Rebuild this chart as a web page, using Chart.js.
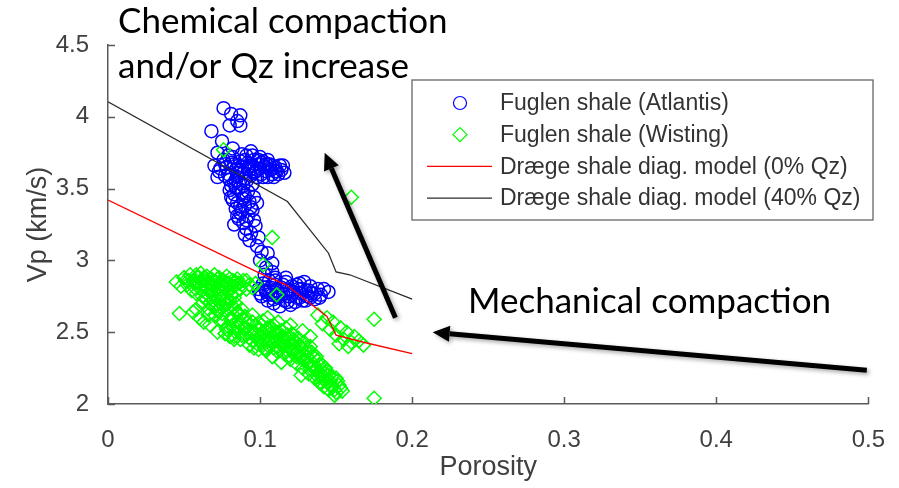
<!DOCTYPE html>
<html>
<head>
<meta charset="utf-8">
<script src="https://cdn.jsdelivr.net/npm/chart.js@4.4.1/dist/chart.umd.min.js"></script>
<style>
  html, body { margin: 0; padding: 0; background: #fff; }
  #caixa { width: 899px; height: 488px; }
</style>
</head>
<body>
<div id="caixa"><canvas id="graficoVp" width="899" height="488"></canvas></div>
<script>
// Fuglen shale (Atlantis) - porosity / Vp (km/s)
const atlantisPorosity = [
  0.076, 0.081, 0.087, 0.085, 0.080, 0.087, 0.068, 0.075, 0.082, 0.072,
  0.070, 0.073, 0.072, 0.076, 0.078, 0.079, 0.080, 0.082, 0.083, 0.084,
  0.085, 0.086, 0.087, 0.088, 0.089, 0.090, 0.091, 0.092, 0.093, 0.094,
  0.095, 0.096, 0.097, 0.098, 0.099, 0.100, 0.101, 0.102, 0.103, 0.104,
  0.105, 0.106, 0.107, 0.108, 0.110, 0.111, 0.113, 0.116, 0.094, 0.088,
  0.100, 0.085, 0.091, 0.095, 0.081,
  0.074, 0.077, 0.081, 0.084, 0.087, 0.090, 0.093, 0.096, 0.099, 0.102,
  0.105, 0.108, 0.112, 0.079, 0.083, 0.089, 0.095, 0.101, 0.109, 0.114,
  0.077, 0.086, 0.092, 0.098, 0.104, 0.110, 0.115,
  0.080, 0.083, 0.086, 0.088, 0.082, 0.085, 0.089, 0.092, 0.084, 0.087,
  0.090, 0.093, 0.096, 0.086, 0.089, 0.092, 0.095, 0.098, 0.083, 0.091,
  0.094, 0.097, 0.099, 0.093,
  0.081, 0.084, 0.087, 0.090, 0.085, 0.088, 0.091, 0.094, 0.090, 0.096,
  0.098, 0.101, 0.105, 0.100, 0.108, 0.104, 0.108, 0.103, 0.110,
  0.099, 0.101, 0.102, 0.104, 0.105, 0.106, 0.107, 0.108, 0.109, 0.110,
  0.111, 0.112, 0.114, 0.115, 0.116, 0.117, 0.118, 0.119, 0.120, 0.121,
  0.122, 0.124, 0.125, 0.126, 0.127, 0.128, 0.130, 0.131, 0.133, 0.134,
  0.136, 0.138, 0.140, 0.145, 0.113, 0.105, 0.123,
  0.100, 0.103, 0.106, 0.109, 0.112, 0.115, 0.118, 0.121, 0.124, 0.127,
  0.130, 0.133, 0.136, 0.139, 0.142, 0.110, 0.117, 0.129,
  0.104, 0.111, 0.120, 0.126, 0.132
];
const atlantisVp = [
  4.06, 4.02, 4.01, 3.97, 3.94, 3.94, 3.90, 3.83, 3.78, 3.75,
  3.66, 3.62, 3.58, 3.70, 3.65, 3.60, 3.56, 3.72, 3.67, 3.63,
  3.58, 3.54, 3.69, 3.65, 3.61, 3.57, 3.73, 3.68, 3.63, 3.59,
  3.66, 3.70, 3.62, 3.58, 3.67, 3.64, 3.60, 3.69, 3.65, 3.62,
  3.58, 3.67, 3.63, 3.60, 3.65, 3.62, 3.66, 3.61, 3.76, 3.74,
  3.72, 3.61, 3.55, 3.53, 3.52,
  3.64, 3.59, 3.68, 3.56, 3.63, 3.70, 3.66, 3.61, 3.70, 3.58,
  3.70, 3.66, 3.60, 3.73, 3.54, 3.52, 3.73, 3.68, 3.58, 3.63,
  3.67, 3.66, 3.64, 3.63, 3.67, 3.62, 3.66,
  3.49, 3.46, 3.50, 3.47, 3.42, 3.40, 3.43, 3.48, 3.36, 3.33,
  3.38, 3.41, 3.44, 3.29, 3.26, 3.31, 3.35, 3.40, 3.25, 3.22,
  3.19, 3.24, 3.16, 3.14,
  3.44, 3.51, 3.38, 3.45, 3.31, 3.35, 3.28, 3.37, 3.18, 3.28,
  3.10, 3.06, 3.05, 3.00, 2.98, 2.95, 2.92, 2.90, 2.88,
  2.80, 2.75, 2.84, 2.78, 2.72, 2.86, 2.81, 2.76, 2.70, 2.83,
  2.79, 2.74, 2.81, 2.77, 2.72, 2.85, 2.79, 2.75, 2.69, 2.82,
  2.78, 2.74, 2.80, 2.84, 2.77, 2.72, 2.79, 2.75, 2.82, 2.77,
  2.73, 2.80, 2.76, 2.78, 2.68, 2.76, 2.71,
  2.77, 2.81, 2.79, 2.73, 2.77, 2.83, 2.71, 2.76, 2.83, 2.80,
  2.72, 2.74, 2.77, 2.74, 2.80, 2.86, 2.88, 2.85,
  2.79, 2.75, 2.79, 2.74, 2.79
];

// Fuglen shale (Wisting) - porosity / Vp (km/s)
const wistingPorosity = [
  0.076, 0.108, 0.102, 0.111, 0.160, 0.175, 0.175,
  0.045, 0.050, 0.052, 0.054, 0.056, 0.057, 0.059, 0.060, 0.061, 0.062,
  0.063, 0.064, 0.065, 0.066, 0.067, 0.068, 0.069, 0.070, 0.071, 0.072,
  0.073, 0.074, 0.075, 0.076, 0.077, 0.078, 0.079, 0.080, 0.082, 0.083,
  0.085, 0.087, 0.089, 0.093, 0.097, 0.058, 0.064, 0.070, 0.078, 0.073,
  0.081, 0.067, 0.076,
  0.048, 0.053, 0.055, 0.058, 0.060, 0.063, 0.065, 0.068, 0.070, 0.072,
  0.074, 0.077, 0.079, 0.081, 0.084, 0.086, 0.062, 0.066, 0.069, 0.075,
  0.080, 0.071, 0.077, 0.083, 0.091,
  0.051, 0.057, 0.061, 0.065, 0.069, 0.073, 0.076, 0.080, 0.084, 0.088,
  0.091, 0.095,
  0.084, 0.079, 0.085, 0.072, 0.088, 0.060, 0.066, 0.074, 0.081, 0.090,
  0.067, 0.072, 0.047, 0.056,
  0.058, 0.062, 0.066, 0.070, 0.075, 0.079, 0.083, 0.087, 0.063, 0.069,
  0.076, 0.078, 0.080, 0.082, 0.084, 0.086, 0.087, 0.089, 0.091, 0.092,
  0.094, 0.095, 0.097, 0.098, 0.100, 0.101, 0.102, 0.104, 0.105, 0.106,
  0.107, 0.109, 0.110, 0.111, 0.112, 0.113, 0.115, 0.116, 0.117, 0.118,
  0.119, 0.120, 0.121, 0.122, 0.123, 0.124, 0.125, 0.126, 0.127, 0.128,
  0.129, 0.130, 0.131, 0.132, 0.133, 0.134, 0.135, 0.136, 0.137, 0.138,
  0.139, 0.140, 0.141, 0.142, 0.143, 0.144, 0.145, 0.146, 0.148, 0.150,
  0.152, 0.154, 0.099, 0.093, 0.108,
  0.077, 0.081, 0.083, 0.085, 0.088, 0.090, 0.093, 0.096, 0.099, 0.101,
  0.103, 0.106, 0.108, 0.110, 0.112, 0.114, 0.116, 0.118, 0.120, 0.122,
  0.124, 0.126, 0.128, 0.130, 0.132, 0.134, 0.136, 0.138, 0.140, 0.142,
  0.144, 0.147, 0.149, 0.151, 0.153, 0.104, 0.114, 0.119, 0.127, 0.135,
  0.079, 0.083, 0.087, 0.091, 0.095, 0.098, 0.102, 0.105, 0.109, 0.113,
  0.117, 0.121, 0.125, 0.129, 0.133, 0.137, 0.141, 0.145, 0.147, 0.150,
  0.096, 0.100, 0.107, 0.111, 0.115, 0.123, 0.131, 0.139, 0.143, 0.149,
  0.085, 0.095, 0.105, 0.112, 0.120, 0.128, 0.133,
  0.138, 0.141, 0.144, 0.146, 0.148, 0.150, 0.153, 0.155, 0.157, 0.160,
  0.162, 0.165, 0.168, 0.152, 0.158
];
const wistingVp = [
  3.77, 3.16, 2.97, 2.76, 3.44, 2.59, 2.04,
  2.85, 2.88, 2.83, 2.90, 2.86, 2.81, 2.88, 2.84, 2.91, 2.79,
  2.86, 2.82, 2.89, 2.84, 2.78, 2.87, 2.82, 2.90, 2.85, 2.80,
  2.88, 2.83, 2.77, 2.86, 2.81, 2.89, 2.84, 2.79, 2.86, 2.82,
  2.87, 2.80, 2.86, 2.83, 2.84, 2.77, 2.74, 2.75, 2.73, 2.71,
  2.76, 2.70, 2.68,
  2.82, 2.86, 2.79, 2.90, 2.81, 2.88, 2.80, 2.84, 2.79, 2.87,
  2.80, 2.85, 2.78, 2.83, 2.78, 2.84, 2.75, 2.76, 2.72, 2.74,
  2.72, 2.68, 2.70, 2.74, 2.80,
  2.86, 2.84, 2.86, 2.86, 2.86, 2.85, 2.83, 2.87, 2.85, 2.83,
  2.86, 2.81,
  2.70, 2.66, 2.63, 2.65, 2.66, 2.60, 2.62, 2.59, 2.60, 2.61,
  2.55, 2.50, 2.63, 2.64,
  2.66, 2.70, 2.66, 2.62, 2.63, 2.70, 2.67, 2.62, 2.57, 2.68,
  2.57, 2.52, 2.47, 2.55, 2.50, 2.58, 2.45, 2.53, 2.48, 2.57,
  2.51, 2.44, 2.55, 2.48, 2.52, 2.42, 2.58, 2.46, 2.53, 2.40,
  2.49, 2.55, 2.44, 2.37, 2.50, 2.42, 2.47, 2.35, 2.53, 2.40,
  2.45, 2.31, 2.49, 2.37, 2.43, 2.28, 2.46, 2.33, 2.39, 2.25,
  2.43, 2.30, 2.36, 2.21, 2.40, 2.27, 2.33, 2.18, 2.24, 2.30,
  2.15, 2.21, 2.27, 2.12, 2.18, 2.23, 2.10, 2.16, 2.12, 2.08,
  2.13, 2.09, 2.38, 2.41, 2.33,
  2.49, 2.58, 2.45, 2.54, 2.48, 2.52, 2.46, 2.50, 2.45, 2.55,
  2.39, 2.51, 2.44, 2.50, 2.40, 2.51, 2.43, 2.48, 2.38, 2.45,
  2.33, 2.41, 2.31, 2.39, 2.28, 2.36, 2.24, 2.19, 2.15, 2.22,
  2.15, 2.19, 2.10, 2.16, 2.11, 2.37, 2.29, 2.34, 2.20, 2.28,
  2.54, 2.47, 2.55, 2.53, 2.57, 2.42, 2.49, 2.44, 2.39, 2.46,
  2.38, 2.42, 2.36, 2.34, 2.25, 2.33, 2.18, 2.20, 2.13, 2.18,
  2.39, 2.47, 2.54, 2.47, 2.41, 2.34, 2.33, 2.27, 2.25, 2.06,
  2.64, 2.62, 2.60, 2.57, 2.55, 2.51, 2.47,
  2.62, 2.56, 2.60, 2.52, 2.57, 2.48, 2.53, 2.45, 2.50, 2.43,
  2.47, 2.44, 2.41, 2.42, 2.40
];

// Dræge diagenetic model curves
const model0Porosity = [0, 0.100, 0.117, 0.133, 0.144, 0.150, 0.168, 0.200];
const model0Vp = [3.42, 2.91, 2.83, 2.70, 2.61, 2.48, 2.43, 2.35];
const model40Porosity = [0, 0.118, 0.145, 0.150, 0.159, 0.200];
const model40Vp = [4.105, 3.41, 3.05, 2.92, 2.90, 2.73];

const seriesLabels = [
  'Fuglen shale (Atlantis)',
  'Fuglen shale (Wisting)',
  'Dræge shale diag. model (0% Qz)',
  'Dræge shale diag. model (40% Qz)'
];

const xTicks = [0, 0.1, 0.2, 0.3, 0.4, 0.5];
const xTickLabels = ['0', '0.1', '0.2', '0.3', '0.4', '0.5'];
const yTicks = [2, 2.5, 3, 3.5, 4, 4.5];
const yTickLabels = ['2', '2.5', '3', '3.5', '4', '4.5'];

function pares(xs, ys) {
  return xs.map(function (x, i) { return { x: x, y: ys[i] }; });
}

const corEixo = '#5a5a5a';
const fonteEixo = 'Liberation Sans, Arial, sans-serif';

// marcas de escala viradas para dentro (estilo MATLAB)
const marcasPlugin = {
  id: 'marcas',
  afterDraw(chart) {
    const ctx = chart.ctx;
    const area = chart.chartArea;
    const sx = chart.scales.x, sy = chart.scales.y;
    ctx.save();
    ctx.strokeStyle = corEixo;
    ctx.lineWidth = 1.5;
    ctx.beginPath();
    xTicks.forEach(function (v) {
      const px = Math.round(sx.getPixelForValue(v)) + 0.5;
      ctx.moveTo(px, area.bottom);
      ctx.lineTo(px, area.bottom - 7);
    });
    yTicks.forEach(function (v) {
      const py = Math.round(sy.getPixelForValue(v)) + 0.5;
      ctx.moveTo(area.left, py);
      ctx.lineTo(area.left + 7, py);
    });
    ctx.stroke();
    ctx.restore();
  }
};

// legenda com caixa dentro da área do gráfico
const legendaPlugin = {
  id: 'legendaCaixa',
  afterDraw(chart) {
    const ctx = chart.ctx;
    const caixa = { left: 412, top: 80, right: 873, bottom: 220 };
    ctx.save();
    ctx.fillStyle = '#ffffff';
    ctx.fillRect(caixa.left, caixa.top, caixa.right - caixa.left, caixa.bottom - caixa.top);
    ctx.strokeStyle = '#666666';
    ctx.lineWidth = 1.3;
    ctx.strokeRect(caixa.left, caixa.top, caixa.right - caixa.left, caixa.bottom - caixa.top);
    ctx.font = '23px ' + fonteEixo;
    ctx.textBaseline = 'middle';
    ctx.textAlign = 'left';
    chart.data.datasets.forEach(function (ds, i) {
      const cy = 103 + i * 31.7;
      ctx.strokeStyle = ds.borderColor;
      ctx.lineWidth = ds.showLine ? ds.borderWidth : 1.2;
      ctx.beginPath();
      if (ds.showLine) {
        ctx.moveTo(427, cy);
        ctx.lineTo(492, cy);
      } else if (ds.pointStyle === 'rectRot') {
        const r = ds.pointRadius;
        ctx.moveTo(460 - r, cy);
        ctx.lineTo(460, cy - r);
        ctx.lineTo(460 + r, cy);
        ctx.lineTo(460, cy + r);
        ctx.closePath();
      } else {
        ctx.arc(460, cy, ds.pointRadius, 0, Math.PI * 2);
      }
      ctx.stroke();
      ctx.fillStyle = '#333333';
      ctx.fillText(ds.label, 500, cy + 1);
    });
    ctx.restore();
  }
};

function seta(ctx, x0, y0, x1, y1) {
  const ang = Math.atan2(y1 - y0, x1 - x0);
  const comp = 17, meia = 8;
  const bx = x1 - comp * Math.cos(ang), by = y1 - comp * Math.sin(ang);
  ctx.beginPath();
  ctx.moveTo(x0, y0);
  ctx.lineTo(bx, by);
  ctx.stroke();
  ctx.beginPath();
  ctx.moveTo(x1, y1);
  ctx.lineTo(bx + meia * Math.sin(ang), by - meia * Math.cos(ang));
  ctx.lineTo(bx - meia * Math.sin(ang), by + meia * Math.cos(ang));
  ctx.closePath();
  ctx.fill();
}

// textos e setas de anotação
const anotacoesPlugin = {
  id: 'anotacoes',
  afterDraw(chart) {
    const ctx = chart.ctx;
    const sx = chart.scales.x, sy = chart.scales.y;
    ctx.save();
    ctx.fillStyle = '#000000';
    ctx.font = '35px Lato, sans-serif';
    ctx.textBaseline = 'alphabetic';
    ctx.textAlign = 'left';
    ctx.fillText('Chemical compaction', 118, 33);
    ctx.fillText('and/or Qz increase', 118, 78);
    ctx.fillText('Mechanical compaction', 468, 313);

    ctx.strokeStyle = '#000000';
    ctx.lineWidth = 5;
    ctx.lineCap = 'butt';
    ctx.shadowColor = 'rgba(0,0,0,0.35)';
    ctx.shadowBlur = 4;
    ctx.shadowOffsetX = 2;
    ctx.shadowOffsetY = 2;
    seta(ctx, sx.getPixelForValue(0.189), sy.getPixelForValue(2.60),
      sx.getPixelForValue(0.1425), sy.getPixelForValue(3.75));
    seta(ctx, sx.getPixelForValue(0.499), sy.getPixelForValue(2.235),
      sx.getPixelForValue(0.2135), sy.getPixelForValue(2.50));
    ctx.restore();
  }
};

const ctxVp = document.getElementById('graficoVp');
new Chart(ctxVp.getContext('2d'), {
  type: 'scatter',
  data: {
    datasets: [
      {
        label: seriesLabels[0],
        data: pares(atlantisPorosity, atlantisVp),
        pointStyle: 'circle',
        pointRadius: 6.5,
        borderColor: '#0000ff',
        backgroundColor: 'rgba(0,0,0,0)',
        borderWidth: 1.5,
        order: 4
      },
      {
        label: seriesLabels[1],
        data: pares(wistingPorosity, wistingVp),
        pointStyle: 'rectRot',
        pointRadius: 7,
        borderColor: '#00ff00',
        backgroundColor: 'rgba(0,0,0,0)',
        borderWidth: 1.5,
        order: 3
      },
      {
        label: seriesLabels[2],
        data: pares(model0Porosity, model0Vp),
        showLine: true,
        pointRadius: 0,
        borderColor: '#ff0000',
        borderWidth: 1.3,
        order: 2
      },
      {
        label: seriesLabels[3],
        data: pares(model40Porosity, model40Vp),
        showLine: true,
        pointRadius: 0,
        borderColor: '#2b2b2b',
        borderWidth: 1.3,
        order: 1
      }
    ]
  },
  options: {
    responsive: false,
    animation: false,
    events: [],
    layout: { padding: { top: 45, right: 30, left: 0, bottom: 0 } },
    plugins: {
      legend: { display: false },
      tooltip: { enabled: false }
    },
    scales: {
      x: {
        type: 'linear',
        min: 0,
        max: 0.5,
        afterBuildTicks: function (s) { s.ticks = xTicks.map(function (v) { return { value: v }; }); },
        afterFit: function (s) { s.height = 84; },
        grid: { display: false },
        border: { display: true, color: corEixo, width: 1.5 },
        ticks: {
          padding: 14,
          color: '#404040',
          font: { family: fonteEixo, size: 24 },
          maxRotation: 0,
          callback: function (v, i) { return xTickLabels[i]; }
        },
        title: {
          display: true,
          text: 'Porosity',
          color: '#404040',
          font: { family: fonteEixo, size: 27 },
          padding: { top: 0, bottom: 4 }
        }
      },
      y: {
        type: 'linear',
        min: 2,
        max: 4.5,
        afterBuildTicks: function (s) { s.ticks = yTicks.map(function (v) { return { value: v }; }); },
        afterFit: function (s) { s.width = 108; },
        grid: { display: false },
        border: { display: true, color: corEixo, width: 1.5 },
        ticks: {
          padding: 11,
          color: '#404040',
          font: { family: fonteEixo, size: 24 },
          callback: function (v, i) { return yTickLabels[i]; }
        },
        title: {
          display: true,
          text: 'Vp (km/s)',
          color: '#404040',
          font: { family: fonteEixo, size: 27 },
          padding: { top: 22, bottom: 0 }
        }
      }
    }
  },
  plugins: [marcasPlugin, legendaPlugin, anotacoesPlugin]
});
</script>
</body>
</html>
